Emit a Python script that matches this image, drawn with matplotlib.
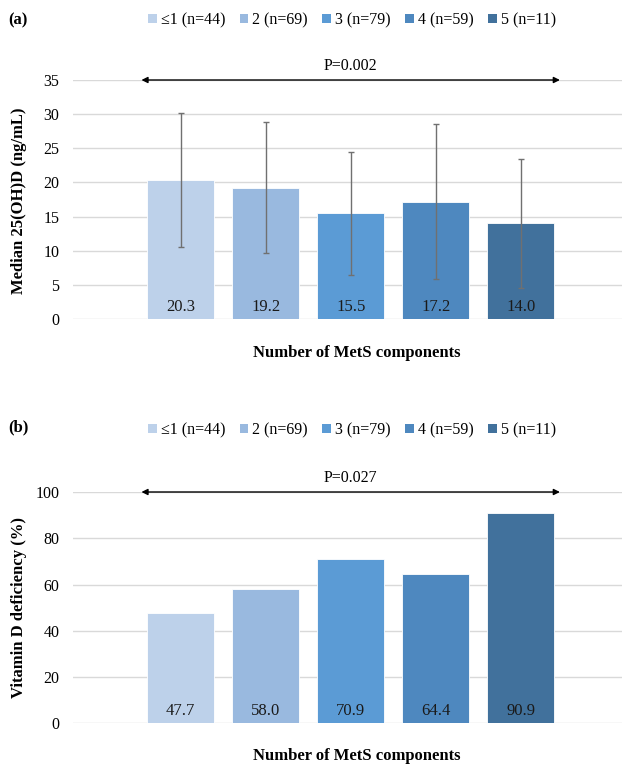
import matplotlib
matplotlib.use("Agg")
import matplotlib.pyplot as plt
from matplotlib.patches import Patch

plt.rcParams['font.family'] = ['Liberation Serif', 'DejaVu Serif']
plt.rcParams['font.size'] = 11

groups = ["\u22641 (n=44)", "2 (n=69)", "3 (n=79)", "4 (n=59)", "5 (n=11)"]
colors = ["#BDD1EA", "#99B9DF", "#5B9BD5", "#4E88BF", "#41719C"]

median_vitd = [20.3, 19.2, 15.5, 17.2, 14.0]
median_err = [9.8, 9.6, 9.0, 11.4, 9.4]
deficiency = [47.7, 58.0, 70.9, 64.4, 90.9]

p_a = "P=0.002"
p_b = "P=0.027"

W, H = 622, 765
fig = plt.figure(figsize=(W / 100, H / 100), dpi=100)

def fx(px):
    return px / W

def fy(py):
    return 1 - py / H

ax_a = fig.add_axes([fx(73.4), fy(319), 1 - fx(73.4), fy(80) - fy(319)])
ax_b = fig.add_axes([fx(73.4), fy(723.3), 1 - fx(73.4), fy(492) - fy(723.3)])

xs = list(range(len(groups)))

def style_axis(ax, ymax, step):
    ax.set_xlim(-1.26, 5.19)
    ax.set_ylim(0, ymax)
    ax.set_yticks(range(0, ymax + 1, step))
    ax.set_xticks([])
    ax.tick_params(axis='y', length=0, pad=10, labelsize=11.5)
    for s in ax.spines.values():
        s.set_visible(False)
    ax.yaxis.grid(True, color="#D9D9D9", lw=1)
    ax.set_axisbelow(True)

def add_arrow(ax, y, label):
    ax.annotate("", xy=(-0.46, y), xytext=(4.46, y),
                arrowprops=dict(arrowstyle='<|-|>', color='black', lw=1,
                                mutation_scale=9, shrinkA=0, shrinkB=0),
                annotation_clip=False)
    ax.annotate(label, xy=(2, y), xytext=(0, 4), textcoords='offset points',
                ha='center', va='bottom', fontsize=11.5, annotation_clip=False)

def add_values(ax, vals):
    for x, v in zip(xs, vals):
        ax.annotate(f"{v:.1f}", xy=(x, 0), xytext=(0, 8.5), textcoords='offset points',
                    ha='center', va='center', fontsize=12, color='#1a1a1a')

# (a) median 25(OH)D with error bars
ax_a.bar(xs, median_vitd, width=0.79, color=colors, edgecolor='white', lw=0.6, zorder=2)
ax_a.errorbar(xs, median_vitd, yerr=median_err, fmt='none', ecolor='#707070',
              elinewidth=1, capsize=2.2, capthick=1, zorder=3)
style_axis(ax_a, 35, 5)
add_arrow(ax_a, 35, p_a)
add_values(ax_a, median_vitd)

# (b) vitamin D deficiency
ax_b.bar(xs, deficiency, width=0.79, color=colors, edgecolor='white', lw=0.6, zorder=2)
style_axis(ax_b, 100, 20)
add_arrow(ax_b, 100, p_b)
add_values(ax_b, deficiency)

# axis titles
fig.text(fx(19), fy(201), "Median 25(OH)D (ng/mL)", rotation=90, ha='center', va='center',
         fontweight='bold', fontsize=12)
fig.text(fx(19), fy(608), "Vitamin D deficiency (%)", rotation=90, ha='center', va='center',
         fontweight='bold', fontsize=12)
fig.text(fx(357), fy(353), "Number of MetS components", ha='center', va='center',
         fontweight='bold', fontsize=12)
fig.text(fx(357), fy(756), "Number of MetS components", ha='center', va='center',
         fontweight='bold', fontsize=12)

fig.text(fx(8), fy(20), "(a)", ha='left', va='center', fontweight='bold', fontsize=12)
fig.text(fx(8), fy(427), "(b)", ha='left', va='center', fontweight='bold', fontsize=12)

handles = [Patch(facecolor=c, edgecolor='none') for c in colors]
for ypx in (20, 430):
    fig.legend(handles, groups, loc='center', bbox_to_anchor=(fx(352), fy(ypx)),
               ncol=5, frameon=False, fontsize=11.5, handlelength=0.55, handleheight=0.55,
               handletextpad=0.25, columnspacing=0.9, borderaxespad=0)

fig.savefig("out.png", dpi=100)
